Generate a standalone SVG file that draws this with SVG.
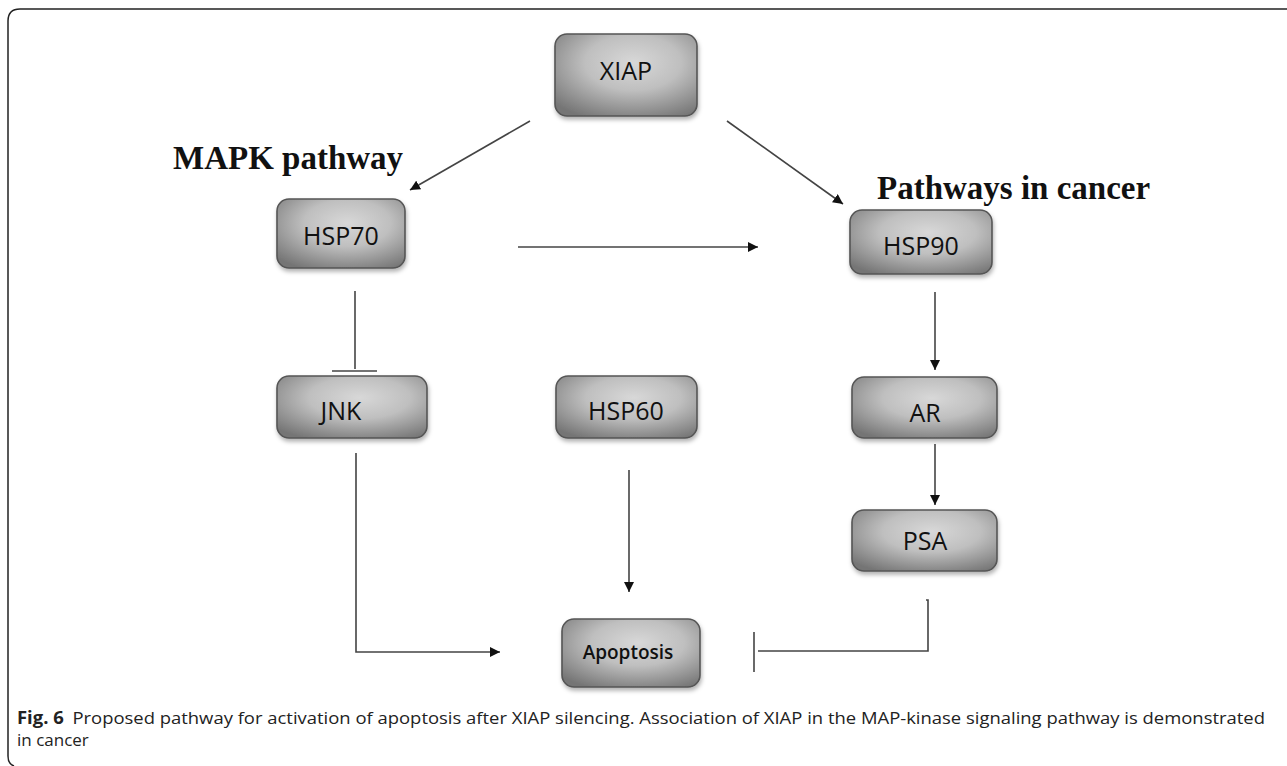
<svg xmlns="http://www.w3.org/2000/svg" width="1287" height="766" viewBox="0 0 1287 766">
<style>
.box{fill:url(#g);stroke:#555;stroke-width:1.6;filter:url(#sh)}
.lbl{font-family:"Open Sans","Noto Sans",sans-serif;font-size:25px;fill:#111;text-anchor:middle;dominant-baseline:central}
.title{font-family:"Liberation Serif","Times New Roman",serif;font-weight:bold;font-size:33px;fill:#111}
.ln{stroke:#444;stroke-width:1.6;fill:none}
.cap{font-family:"Open Sans","Liberation Sans",sans-serif;font-size:17px;fill:#222}
</style>
<defs>
<radialGradient id="g" cx="0.55" cy="0.35" r="0.75">
<stop offset="0" stop-color="#d8d8d8"/>
<stop offset="0.45" stop-color="#bfbfbf"/>
<stop offset="1" stop-color="#747474"/>
</radialGradient>
<filter id="sh" x="-10%" y="-10%" width="125%" height="135%">
<feDropShadow dx="1" dy="3" stdDeviation="2" flood-color="#000" flood-opacity="0.3"/>
</filter>
<marker id="ar" viewBox="0 0 10 10" refX="10" refY="5" markerWidth="10" markerHeight="10" markerUnits="userSpaceOnUse" orient="auto">
<path d="M0,0 L10,5 L0,10 z" fill="#111"/>
</marker>
</defs>
<path d="M1287,9 H20 Q8,9 8,21 V756 Q8,764 14,766" fill="none" stroke="#222" stroke-width="1.5"/>
<text class="title" x="173" y="169">MAPK pathway</text>
<text class="title" x="877" y="199">Pathways in cancer</text>
<g id="connectors">
<line class="ln" x1="530" y1="121" x2="410" y2="190" marker-end="url(#ar)"/>
<line class="ln" x1="727" y1="121" x2="843" y2="204" marker-end="url(#ar)"/>
<line class="ln" x1="518" y1="247" x2="758" y2="247" marker-end="url(#ar)"/>
<line class="ln" x1="355" y1="291" x2="355" y2="369" stroke="#777" stroke-width="2"/>
<line class="ln" x1="332" y1="371" x2="377" y2="371" stroke="#777" stroke-width="2"/>
<line class="ln" x1="935" y1="292" x2="935" y2="370" marker-end="url(#ar)"/>
<line class="ln" x1="935" y1="444" x2="935" y2="505" marker-end="url(#ar)"/>
<line class="ln" x1="629" y1="470" x2="629" y2="592" marker-end="url(#ar)"/>
<polyline class="ln" points="356,453 356,652 500,652" marker-end="url(#ar)"/>
<polyline class="ln" points="926,600 928,600 928,651 758,651"/>
<line class="ln" x1="754" y1="632" x2="754" y2="672"/>
</g>
<g id="XIAP"><rect class="box" x="555" y="34" width="142" height="82" rx="12"/><text class="lbl" x="626" y="70">XIAP</text></g>
<g id="HSP70"><rect class="box" x="277" y="199" width="128" height="69" rx="12"/><text class="lbl" x="341" y="235">HSP70</text></g>
<g id="HSP90"><rect class="box" x="850" y="210" width="142" height="64" rx="12"/><text class="lbl" x="921" y="245">HSP90</text></g>
<g id="JNK"><rect class="box" x="277" y="376" width="150" height="62" rx="12"/><text class="lbl" x="341" y="410">JNK</text></g>
<g id="HSP60"><rect class="box" x="556" y="376" width="141" height="62" rx="12"/><text class="lbl" x="626" y="410">HSP60</text></g>
<g id="AR"><rect class="box" x="852" y="377" width="145" height="61" rx="12"/><text class="lbl" x="925" y="412">AR</text></g>
<g id="PSA"><rect class="box" x="852" y="510" width="145" height="61" rx="12"/><text class="lbl" x="925" y="540">PSA</text></g>
<g id="Apoptosis"><rect class="box" x="562" y="619" width="138" height="68" rx="12"/><text class="lbl" x="628" y="652" style="font-size:19px;font-weight:600">Apoptosis</text></g>
<text class="cap" x="17" y="724" textLength="1248" lengthAdjust="spacingAndGlyphs"><tspan font-weight="bold">Fig. 6</tspan><tspan dx="8">Proposed pathway for activation of apoptosis after XIAP silencing. Association of XIAP in the MAP-kinase signaling pathway is demonstrated</tspan></text>
<text class="cap" x="17" y="746">in cancer</text>
</svg>
